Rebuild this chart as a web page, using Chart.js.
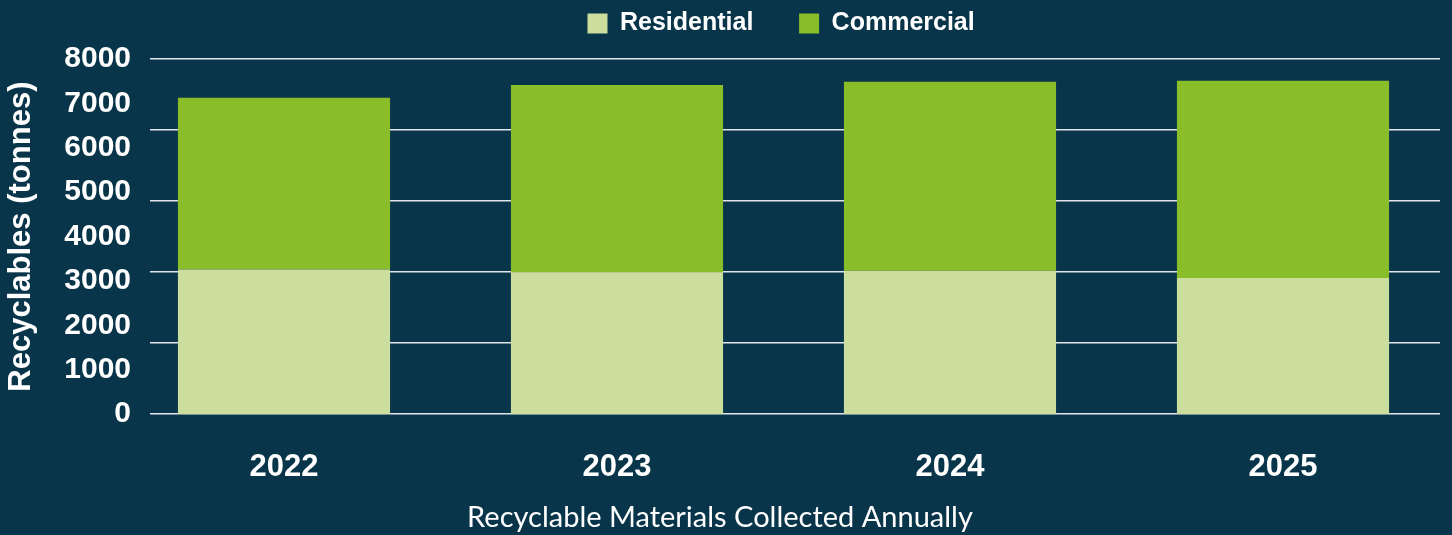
<!DOCTYPE html>
<html>
<head>
<meta charset="utf-8">
<script src="https://cdn.jsdelivr.net/npm/chart.js@4"></script>
<style>
  html, body { margin: 0; padding: 0; background: #083549; }
  #wrap { width: 1452px; height: 535px; position: relative; }
</style>
</head>
<body>
<div id="wrap"><canvas id="chart"></canvas></div>
<script>
'use strict';

// values (tonnes)
let years = [2022, 2023, 2024, 2025];
let residential = [3260, 3195, 3230, 3070];
let commercial = [3870, 4220, 4255, 4440];
let yTicks = [0, 1000, 2000, 3000, 4000, 5000, 6000, 7000, 8000];
let gridSteps = [0, 1600, 3200, 4800, 6400, 8000];

let canvasElem = document.getElementById('chart');
let boldFont = 'Liberation Sans, Arial, sans-serif';

function renderChart() {
  let chartObj = {
    type: 'bar',
    data: {
      labels: years,
      datasets: [{
        label: 'Residential',
        data: residential,
        xAxisID: 'x',
        yAxisID: 'y',
        backgroundColor: '#cbde9d',
        borderWidth: 0
      },
      {
        label: 'Commercial',
        data: commercial,
        xAxisID: 'x',
        yAxisID: 'y',
        backgroundColor: '#8abd2a',
        borderWidth: 0
      }]
    },
    options: {
      responsive: true,
      maintainAspectRatio: false,
      animation: false,
      layout: { padding: { left: 0, right: 12, top: 0, bottom: 0 } },
      datasets: {
        bar: { categoryPercentage: 1, barPercentage: 0.637 }
      },
      plugins: {
        tooltip: { enabled: false },
        legend: {
          position: 'top',
          fullSize: false,
          labels: {
            color: '#ffffff',
            font: { family: boldFont, size: 25, weight: 'bold' },
            boxWidth: 20,
            boxHeight: 20,
            padding: 11,
            generateLabels: function (chart) {
              let items = Chart.defaults.plugins.legend.labels.generateLabels(chart);
              // spacing between entries, and nudge the row left
              items[0].text = items[0].text + '     ';
              items[1].text = items[1].text + '    ';
              return items;
            }
          }
        },
        title: {
          display: true,
          position: 'bottom',
          text: 'Recyclable Materials Collected Annually',
          color: '#ffffff',
          font: { family: 'Lato, sans-serif', size: 29, weight: 'normal' },
          padding: { top: 8, bottom: 0 }
        }
      },
      scales: {
        x: {
          type: 'linear',
          stacked: true,
          offset: false,
          min: 2021.5976,
          max: 2025.4715,
          afterBuildTicks: function (axis) {
            axis.ticks = years.map(y => ({ value: y }));
          },
          ticks: {
            color: '#ffffff',
            padding: 35,
            font: { family: boldFont, size: 31, weight: 'bold' },
            callback: v => String(v)
          },
          grid: { display: false, drawTicks: false, offset: false },
          border: { display: false },
          afterFit: function (s) { s.height = 78; }
        },
        xTop: {
          type: 'linear',
          position: 'top',
          display: true,
          ticks: { display: false },
          grid: { display: false, drawTicks: false },
          border: { display: false },
          afterFit: function (s) { s.height = 13; }
        },
        y: {
          stacked: true,
          position: 'left',
          min: 0,
          max: 8000,
          afterBuildTicks: function (axis) {
            axis.ticks = yTicks.map(v => ({ value: v }));
          },
          ticks: {
            color: '#ffffff',
            padding: 19,
            autoSkip: false,
            font: { family: boldFont, size: 30, weight: 'bold' },
            callback: v => String(v)
          },
          grid: { display: false, drawTicks: false },
          border: { display: false },
          title: {
            display: true,
            text: 'Recyclables (tonnes)',
            color: '#ffffff',
            font: { family: boldFont, size: 31, weight: 'bold' },
            padding: { top: 3, bottom: 10 }
          },
          afterFit: function (s) { s.width = 150; }
        },
        yGrid: {
          type: 'linear',
          position: 'left',
          min: 0,
          max: 8000,
          afterBuildTicks: function (axis) {
            axis.ticks = gridSteps.map(v => ({ value: v }));
          },
          ticks: { display: false },
          grid: { color: '#dfe5e8', lineWidth: 1.5, drawTicks: false },
          border: { display: false },
          afterFit: function (s) { s.width = 0; }
        }
      }
    }
  };
  new Chart(canvasElem, chartObj);
}

renderChart();
</script>
</body>
</html>
